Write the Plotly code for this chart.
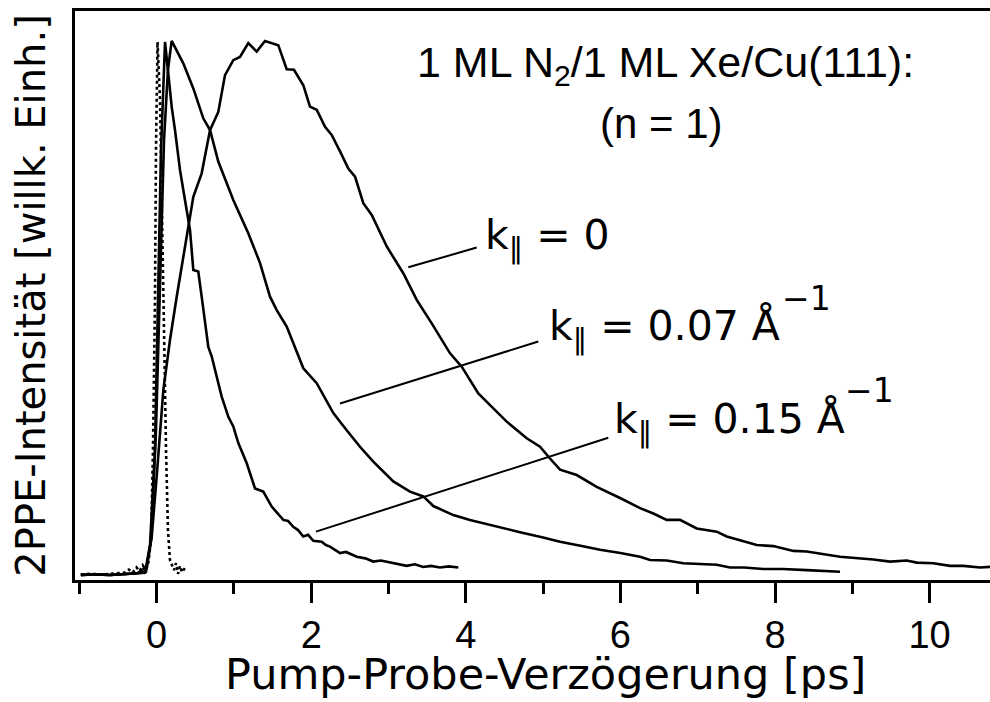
import plotly.graph_objects as go

# ---- data (delay in ps, normalised 2PPE intensity) ----
cc_t = [-0.98, -0.85, -0.7, -0.55, -0.42, -0.36, -0.31, -0.26, -0.22, -0.18, -0.14, -0.111, -0.072,
        -0.047, -0.021, -0.008, 0.012, 0.044, 0.07, 0.096, 0.122, 0.147, 0.173, 0.199, 0.225,
        0.251, 0.277, 0.303, 0.329, 0.367]
cc_i = [0.003, 0.004, 0.003, 0.004, 0.006, 0.012, 0.006, 0.016, 0.009, 0.02, 0.012, 0.02, 0.067,
        0.236, 0.517, 0.798, 1.0, 0.891, 0.704, 0.461, 0.236, 0.086, 0.030, 0.019, 0.011,
        0.024, 0.004, 0.019, 0.007, 0.015]

k015_t = [-0.98, -0.8, -0.6, -0.4, -0.25, -0.15, -0.085, -0.021, 0.018, 0.057, 0.109, 0.195, 0.238,
          0.303, 0.367, 0.432, 0.475, 0.539, 0.583, 0.669, 0.713, 0.842, 0.928, 0.992, 1.057,
          1.166, 1.273, 1.38, 1.489, 1.56, 1.639, 1.70, 1.768, 1.83, 1.898, 1.96, 2.027, 2.136,
          2.19, 2.243, 2.30, 2.373, 2.45, 2.589, 2.70, 2.803, 2.90, 3.062, 3.15, 3.235, 3.34,
          3.45, 3.55, 3.666, 3.78, 3.903]
k015_i = [0.002, 0.003, 0.002, 0.004, 0.005, 0.006, 0.058, 0.236, 0.517, 0.798, 1.0, 0.879, 0.835,
          0.760, 0.704, 0.648, 0.573, 0.570, 0.523, 0.429, 0.411, 0.336, 0.298, 0.280, 0.249,
          0.211, 0.164, 0.158, 0.130, 0.119, 0.105, 0.103, 0.092, 0.086, 0.074, 0.077, 0.066, 0.064,
          0.058, 0.055, 0.050, 0.043, 0.045, 0.036, 0.033, 0.027, 0.029, 0.024, 0.021, 0.019, 0.022,
          0.017, 0.019, 0.016, 0.018, 0.016]

k007_t = [-0.98, -0.8, -0.6, -0.4, -0.25, -0.137, -0.072, -0.008, 0.044, 0.096, 0.147, 0.195,
          0.345, 0.475, 0.604, 0.691, 0.798, 0.992, 1.186, 1.338, 1.467, 1.554, 1.683, 1.898,
          2.071, 2.286, 2.459, 2.631, 2.803, 3.062, 3.278, 3.45, 3.58, 3.838, 4.054, 4.40, 4.701,
          5.0, 5.219, 5.5, 5.736, 6.0, 6.254, 6.383, 6.599, 6.814, 7.0, 7.246, 7.418, 7.6, 7.849,
          8.1, 8.41, 8.65, 8.841]
k007_i = [0.002, 0.003, 0.002, 0.004, 0.005, 0.008, 0.067, 0.273, 0.554, 0.816, 0.948, 1.002,
          0.960, 0.913, 0.857, 0.835, 0.776, 0.704, 0.642, 0.586, 0.523, 0.498, 0.467, 0.389,
          0.361, 0.305, 0.273, 0.242, 0.214, 0.177, 0.158, 0.149, 0.131, 0.114, 0.105, 0.092, 0.082,
          0.072, 0.064, 0.056, 0.049, 0.043, 0.036, 0.030, 0.029, 0.024, 0.023, 0.021, 0.016, 0.016,
          0.013, 0.013, 0.011, 0.010, 0.008]

k0_t = [-0.98, -0.8, -0.6, -0.4, -0.25, -0.128, -0.063, 0.001, 0.087, 0.173, 0.26, 0.475, 0.583,
        0.691, 0.798, 0.885, 0.992, 1.079, 1.186, 1.295, 1.402, 1.574, 1.683, 1.777, 1.898, 1.984,
        2.071, 2.179, 2.265, 2.373, 2.48, 2.567, 2.631, 2.674, 2.783, 2.977, 3.191, 3.365, 3.559,
        3.796, 3.947, 4.162, 4.356, 4.529, 4.788, 4.96, 5.089, 5.219, 5.435, 5.693, 5.995, 6.254,
        6.426, 6.599, 6.771, 6.987, 7.246, 7.375, 7.547, 7.763, 7.978, 8.237, 8.41, 8.841, 9.272,
        9.488, 9.704, 9.833, 10.048, 10.264, 10.436, 10.652, 10.781, 11.0]
k0_i = [0.002, 0.003, 0.002, 0.004, 0.005, 0.017, 0.074, 0.186, 0.348, 0.442, 0.523, 0.710, 0.754,
        0.835, 0.869, 0.938, 0.966, 0.972, 0.998, 0.982, 1.002, 0.994, 0.949, 0.948, 0.919, 0.879,
        0.873, 0.841, 0.826, 0.795, 0.763, 0.748, 0.717, 0.698, 0.676, 0.617, 0.567, 0.517, 0.473,
        0.417, 0.392, 0.342, 0.314, 0.289, 0.258, 0.242, 0.220, 0.199, 0.189, 0.167, 0.146, 0.127,
        0.117, 0.105, 0.105, 0.089, 0.083, 0.074, 0.067, 0.058, 0.056, 0.047, 0.046, 0.036, 0.031,
        0.027, 0.029, 0.025, 0.024, 0.019, 0.019, 0.016, 0.017, 0.016]

x_ticks = [0, 2, 4, 6, 8, 10]

labels = ["k<sub>‖</sub> = 0", "k<sub>‖</sub> = 0.07 Å", "k<sub>‖</sub> = 0.15 Å"]
label_pos = [(4.222, 0.633), (5.05, 0.4625), (5.891, 0.288)]
sup_text = "−1"
sup_pos = [(8.064, 0.52), (8.877, 0.348)]
leaders = [((3.256, 0.578), (4.141, 0.615)),
           ((2.373, 0.323), (4.938, 0.439)),
           ((2.062, 0.083), (5.843, 0.259))]

fig = go.Figure()
line_solid = dict(color="black", width=2.6)
fig.add_trace(go.Scatter(x=cc_t, y=cc_i, mode="lines",
                         line=dict(color="black", width=2.6, dash="dot")))
fig.add_trace(go.Scatter(x=k015_t, y=k015_i, mode="lines", line=line_solid))
fig.add_trace(go.Scatter(x=k007_t, y=k007_i, mode="lines", line=line_solid))
fig.add_trace(go.Scatter(x=k0_t, y=k0_i, mode="lines", line=line_solid))

for (p0, p1) in leaders:
    fig.add_shape(type="line", x0=p0[0], y0=p0[1], x1=p1[0], y1=p1[1],
                  xref="x", yref="y", line=dict(color="black", width=2))

for txt, (lx, ly) in zip(labels, label_pos):
    fig.add_annotation(x=lx, y=ly, xref="x", yref="y", text=txt, showarrow=False,
                       xanchor="left", yanchor="middle",
                       font=dict(family="DejaVu Sans", size=41, color="black"))
for (sx, sy) in sup_pos:
    fig.add_annotation(x=sx, y=sy, xref="x", yref="y", text=sup_text, showarrow=False,
                       xanchor="left", yanchor="middle",
                       font=dict(family="DejaVu Sans", size=33, color="black"))

fig.add_annotation(x=0.372, y=0.905, xref="paper", yref="paper",
                   text="1 ML N<sub>2</sub>/1 ML Xe/Cu(111):", showarrow=False,
                   xanchor="left", yanchor="middle",
                   font=dict(family="Liberation Sans", size=43, color="black"))
fig.add_annotation(x=0.6415, y=0.803, xref="paper", yref="paper",
                   text="(n = 1)", showarrow=False, xanchor="center", yanchor="middle",
                   font=dict(family="Liberation Sans", size=42, color="black"))

fig.add_annotation(x=0.514, y=-0.1655, xref="paper", yref="paper",
                   text="Pump-Probe-Verzögerung [ps]", showarrow=False,
                   xanchor="center", yanchor="middle",
                   font=dict(family="DejaVu Sans", size=43, color="black"))
fig.add_annotation(x=-0.049, y=0.5, xref="paper", yref="paper",
                   text="2PPE-Intensität [willk. Einh.]", showarrow=False, textangle=-90,
                   xanchor="center", yanchor="middle",
                   font=dict(family="DejaVu Sans", size=40, color="black"))

fig.update_layout(
    width=990, height=702,
    margin=dict(l=75, r=0, t=11, b=122),
    paper_bgcolor="white", plot_bgcolor="white",
    showlegend=False,
    xaxis=dict(range=[-1.0556, 10.781], tickvals=x_ticks, ticks="outside", ticklen=20,
               tickwidth=2.5, tickcolor="black", showline=True, linewidth=2.5, linecolor="black",
               mirror=True, showgrid=False, zeroline=False,
               tickfont=dict(family="Liberation Sans", size=38, color="black"),
               minor=dict(dtick=1, tick0=0, ticks="outside", ticklen=11, tickwidth=2.5,
                          tickcolor="black", showgrid=False)),
    yaxis=dict(range=[-0.0075, 1.058], showticklabels=False, ticks="", showline=True,
               linewidth=2.5, linecolor="black", showgrid=False, zeroline=False),
)

fig.write_html("out.html")
